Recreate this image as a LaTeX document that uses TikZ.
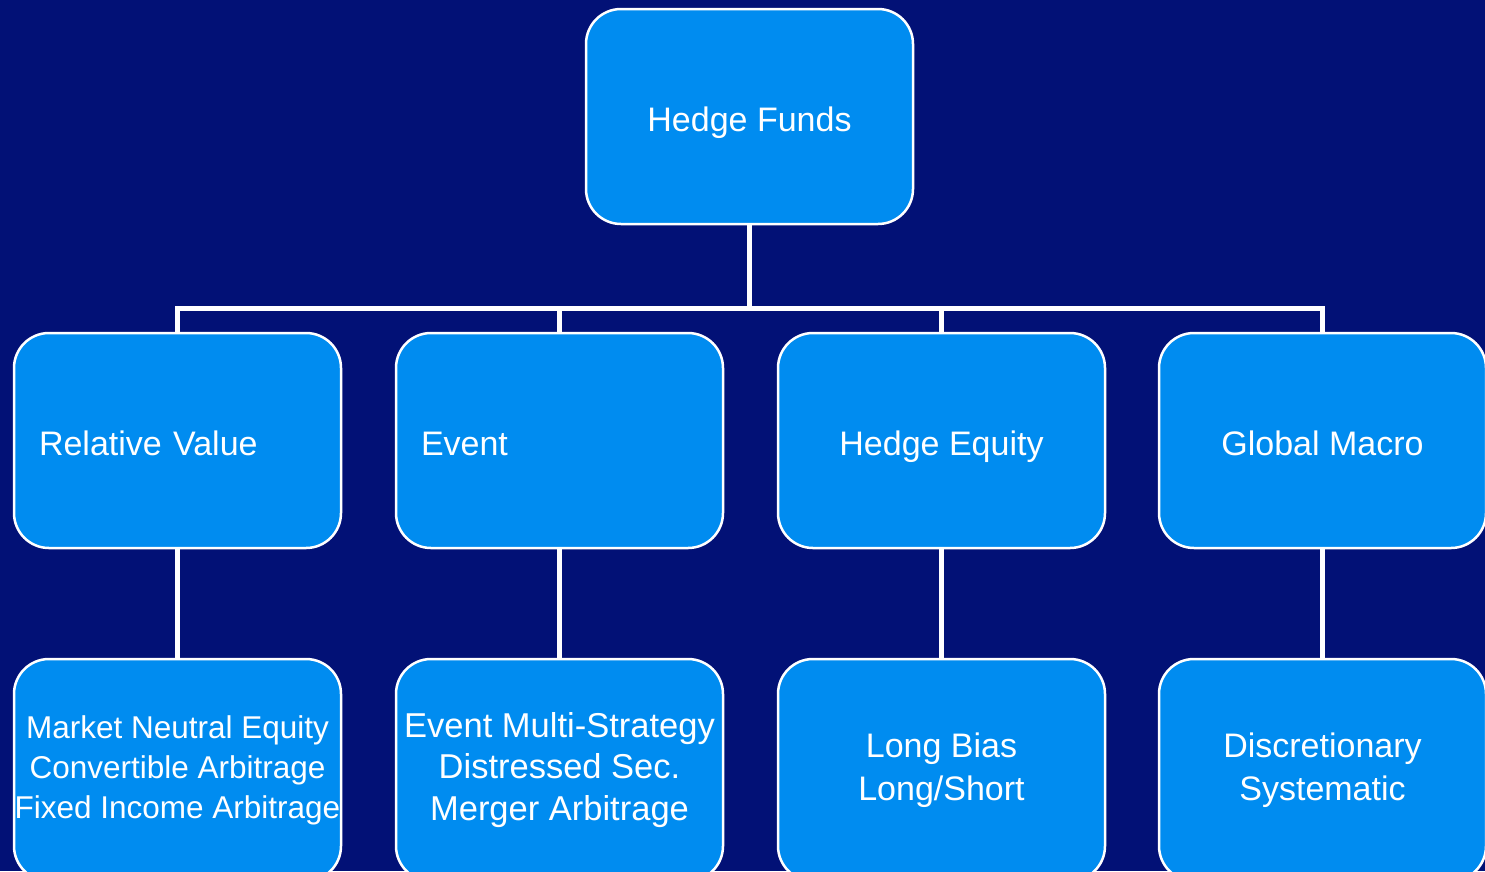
\documentclass[tikz,border=0pt]{standalone}
\usepackage{fontspec}
\setmainfont{Liberation Sans}
\definecolor{bgnavy}{RGB}{2,17,118}
\definecolor{boxblue}{RGB}{0,140,240}
\begin{document}
\begin{tikzpicture}[x=1pt,y=-1pt,
  boxstyle/.style={draw=white, line width=2.5pt, fill=boxblue, rounded corners=35pt,
    minimum width=327pt, minimum height=215pt, text=white, inner sep=0pt,
    font=\fontsize{34}{43}\selectfont, align=center},
  onebox/.style={boxstyle, text height=34pt, text depth=4.6pt},
  leftbox/.style={onebox, align=left, text width=277pt},
  lowbox/.style={boxstyle, minimum height=222pt},
  conn/.style={draw=white, line width=5pt, line cap=rect}
]
\fill[bgnavy] (0,0) rectangle (1485,871);
\useasboundingbox (0,0) rectangle (1485,871);

\node[onebox] (hf) at (749.5,116.5) {Hedge Funds};

\node[leftbox] (rv) at (177.5,440.5) {Relative Value};
\node[leftbox] (ev) at (559.5,440.5) {Event};
\node[onebox] (he) at (941.5,440.5) {Hedge Equity};
\node[onebox] (gm) at (1322.5,440.5) {Global Macro};

\draw[conn] (hf.south) -- (hf.south |- 0,308) -| (rv.north);
\draw[conn] (hf.south |- 0,308) -| (ev.north);
\draw[conn] (hf.south |- 0,308) -| (he.north);
\draw[conn] (hf.south |- 0,308) -| (gm.north);

\node[lowbox, font=\fontsize{31.5}{40}\selectfont] (mne) at (177.5,770) {Market Neutral Equity\\Convertible Arbitrage\\Fixed Income Arbitrage};
\node[lowbox, font=\fontsize{34.5}{41.5}\selectfont] (ems) at (559.5,770) {Event Multi-Strategy\\Distressed Sec.\\Merger Arbitrage};
\node[lowbox] (lb) at (941.5,770) {Long Bias\\Long/Short};
\node[lowbox] (ds) at (1322.5,770) {Discretionary\\Systematic};

\draw[conn] (rv.south) -- (mne.north);
\draw[conn] (ev.south) -- (ems.north);
\draw[conn] (he.south) -- (lb.north);
\draw[conn] (gm.south) -- (ds.north);
\end{tikzpicture}
\end{document}
